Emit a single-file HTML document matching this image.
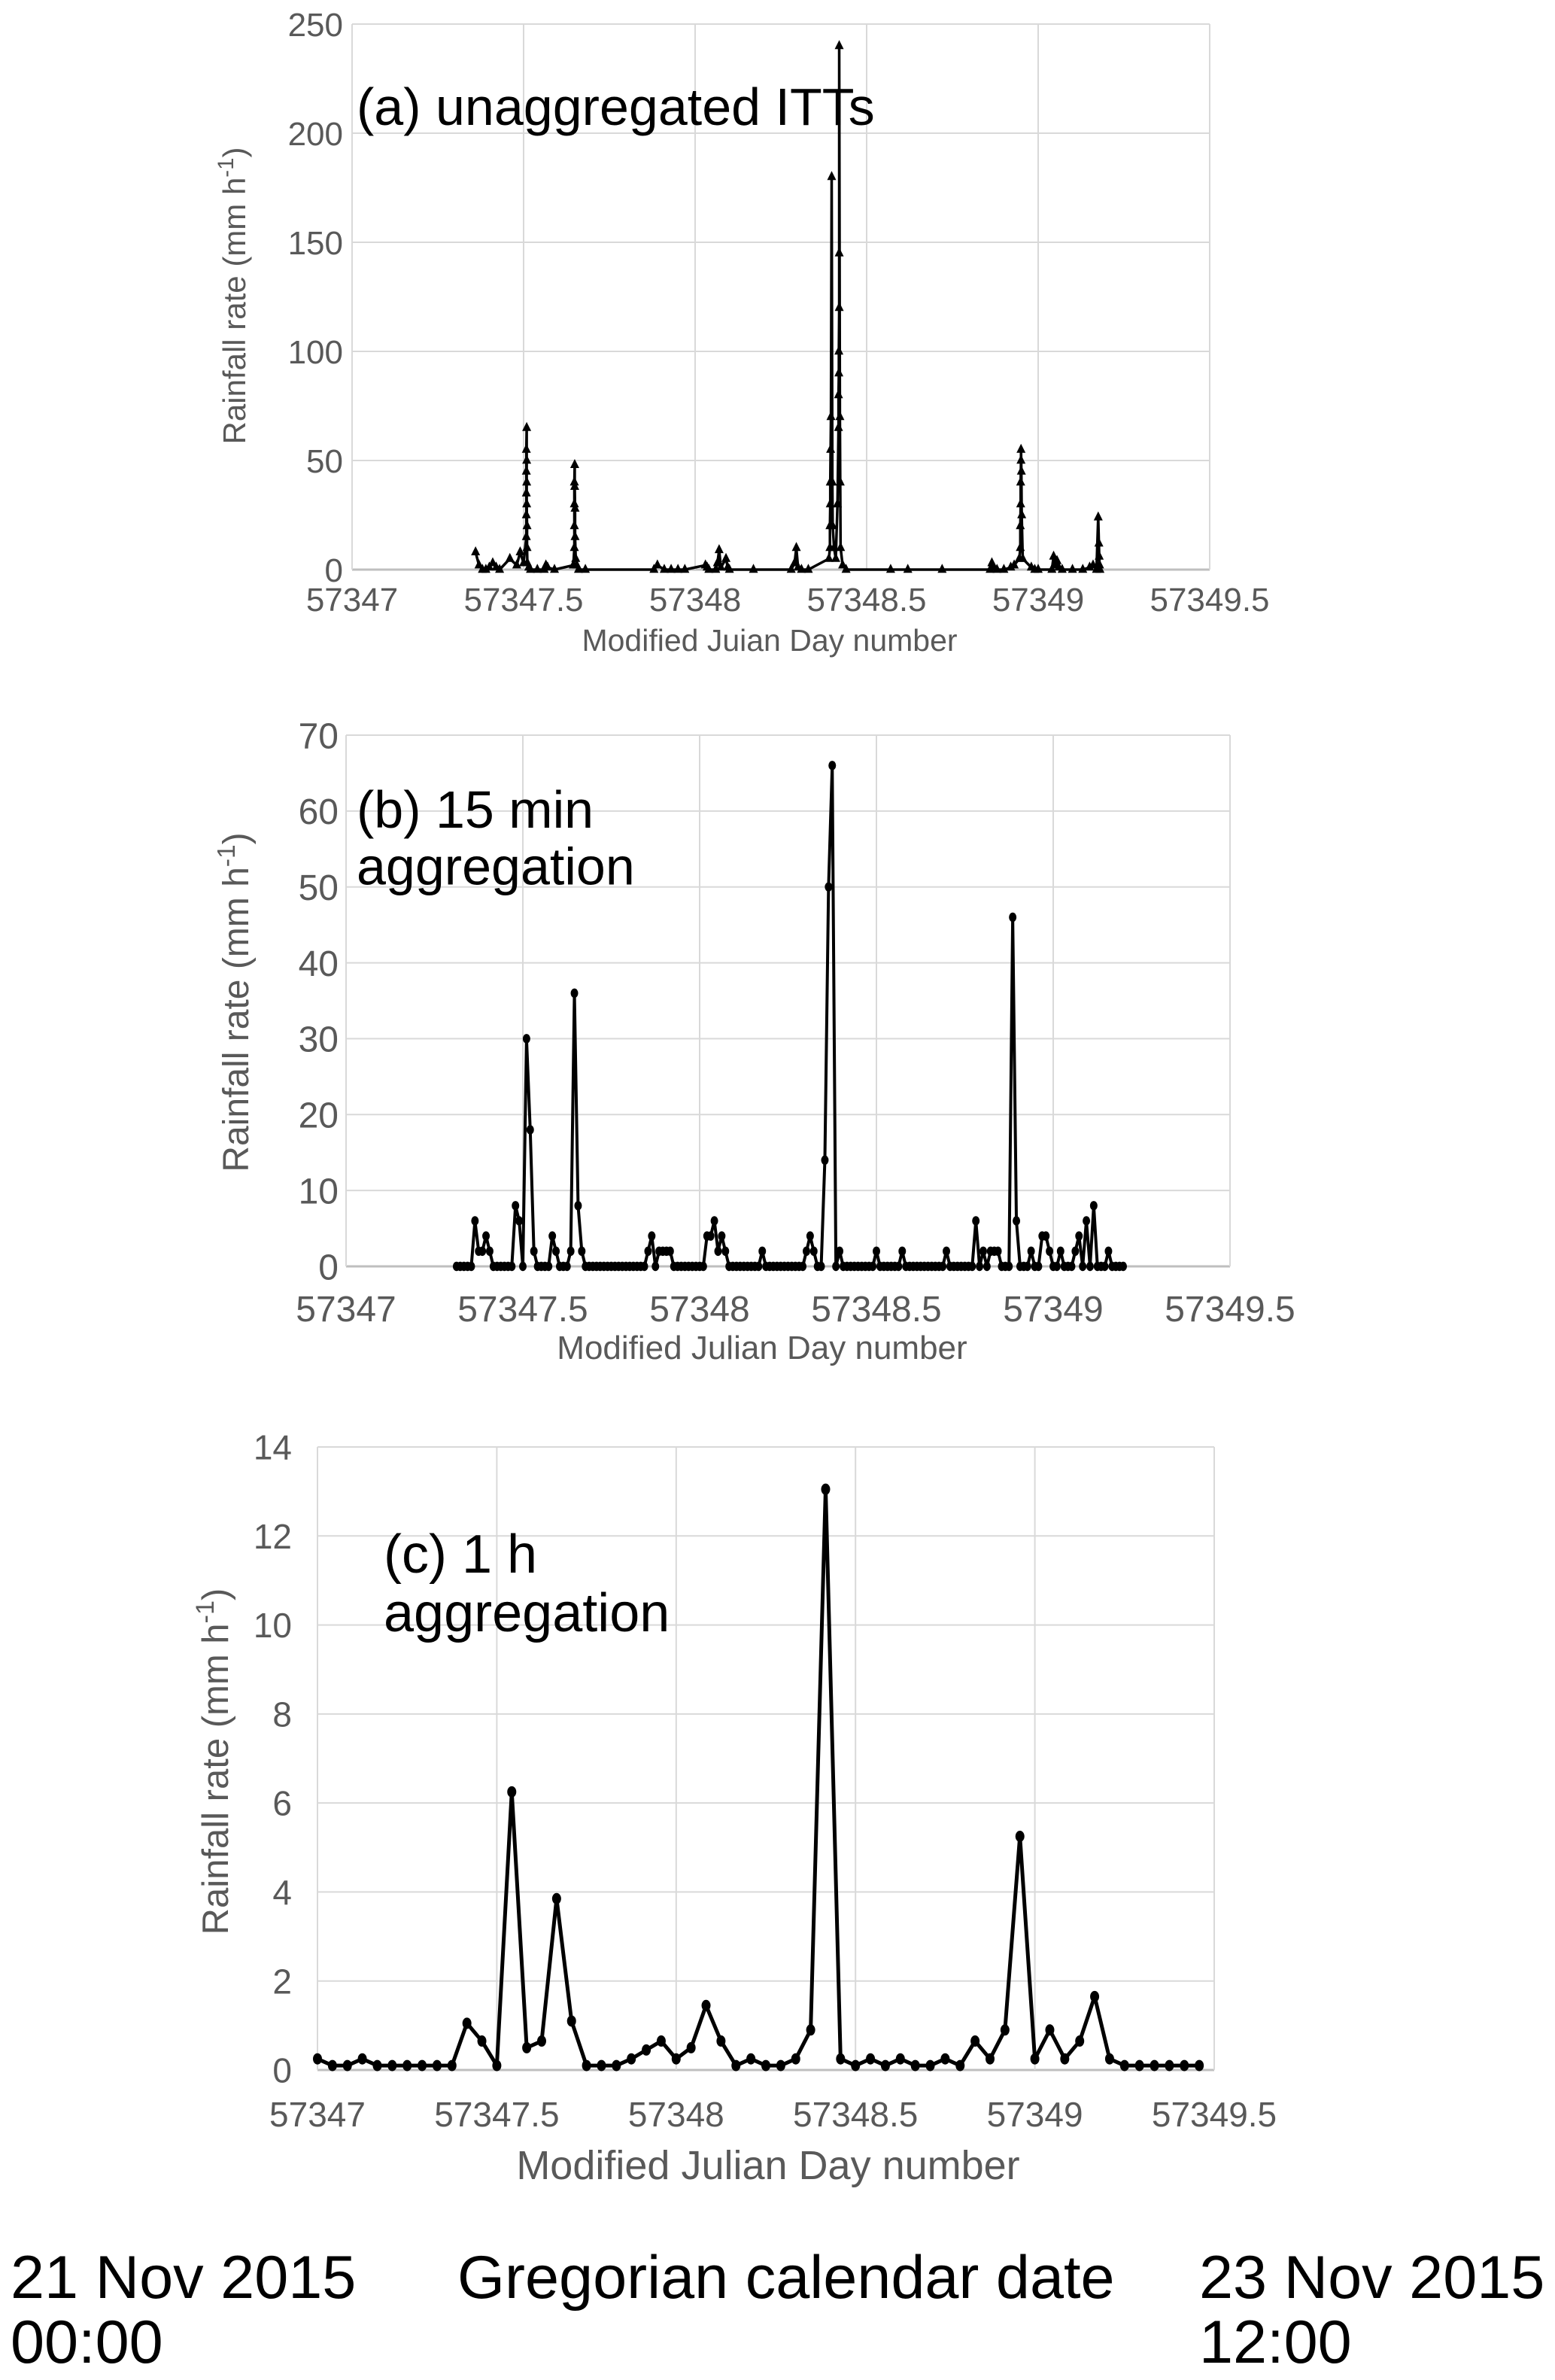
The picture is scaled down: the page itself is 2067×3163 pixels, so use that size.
<!DOCTYPE html>
<html><head><meta charset="utf-8"><style>
html,body{margin:0;padding:0;background:#fff;}
svg{display:block;font-family:"Liberation Sans",sans-serif;}
</style></head><body>
<svg id="fig" width="2067" height="3163" viewBox="0 0 2067 3163" xmlns="http://www.w3.org/2000/svg">
<g id="pa"></g>
<g id="pb"></g>
<g id="pc"></g>
<g font-size="81" fill="#000">
<text x="14" y="3054">21 Nov 2015</text>
<text x="14" y="3140">00:00</text>
<text x="608" y="3054">Gregorian calendar date</text>
<text x="1594" y="3054">23 Nov 2015</text>
<text x="1594" y="3140">12:00</text>
</g>
</svg>
<script>
// Shared x ticks
const xTicks = [57347, 57347.5, 57348, 57348.5, 57349, 57349.5];
const xTickLabels = ["57347", "57347.5", "57348", "57348.5", "57349", "57349.5"];
// Panel a
const aYTicks = [0, 50, 100, 150, 200, 250];
const aX = [57347.36,57347.37,57347.38,57347.39,57347.40,57347.41,57347.42,57347.43,57347.46,57347.48,57347.49,57347.50,
57347.508,57347.508,57347.508,57347.508,57347.508,57347.509,57347.509,57347.509,57347.509,57347.51,57347.51,57347.511,
57347.515,57347.52,57347.54,57347.56,57347.565,57347.57,57347.59,
57347.645,57347.648,57347.648,57347.648,57347.648,57347.649,57347.649,57347.65,57347.65,57347.652,57347.655,57347.66,57347.68,
57347.88,57347.89,57347.91,57347.93,57347.95,57347.97,
57348.03,57348.035,57348.04,57348.06,57348.065,57348.07,57348.075,57348.09,57348.095,57348.10,57348.17,
57348.28,57348.29,57348.295,57348.30,57348.31,57348.33,
57348.39,57348.393,57348.393,57348.394,57348.394,57348.395,57348.396,57348.398,57348.40,57348.401,57348.405,57348.41,57348.415,
57348.418,57348.418,57348.419,57348.419,57348.42,57348.42,57348.42,57348.422,57348.423,57348.424,57348.43,57348.44,
57348.57,57348.62,57348.72,
57348.86,57348.865,57348.87,57348.88,57348.90,57348.92,57348.93,57348.945,57348.948,57348.948,57348.949,57348.949,57348.95,57348.95,57348.951,57348.952,57348.955,57348.98,57348.99,57349.00,
57349.04,57349.045,57349.05,57349.055,57349.06,57349.07,57349.10,57349.13,57349.15,57349.16,57349.17,57349.175,57349.177,57349.178,57349.179,57349.18];
const aY = [8,2,0,0,1,3,1,0,5,2,8,3,
15,25,35,45,55,65,50,40,30,20,10,3,
1,0,0,0,2,1,0,
2,10,20,30,40,48,38,28,15,5,2,0,0,
0,2,0,0,0,0,
2,1,0,0,3,9,1,5,1,0,0,
0,3,10,1,0,0,
5,10,20,30,40,55,70,180,40,20,10,5,30,
65,80,90,100,120,145,240,70,40,10,2,0,
0,0,0,
0,3,1,0,0,1,2,5,10,20,30,40,50,55,45,25,5,1,0,0,
0,6,2,4,1,0,0,0,1,2,0,24,12,6,2,0];
// Panel b (15 min)
const bStart = 57347.3125;
const bStep = 1/96;
const bYTicks = [0,10,20,30,40,50,60,70];
const bY = [0,0,0,0,0,6,2,2,4,2,
0,0,0,0,0,0,8,6,0,30,
18,2,0,0,0,0,4,2,0,0,
0,2,36,8,2,0,0,0,0,0,
0,0,0,0,0,0,0,0,0,0,
0,0,2,4,0,2,2,2,2,0,
0,0,0,0,0,0,0,0,4,4,
6,2,4,2,0,0,0,0,0,0,
0,0,0,2,0,0,0,0,0,0,
0,0,0,0,0,2,4,2,0,0,
14,50,66,0,2,0,0,0,0,0,
0,0,0,0,2,0,0,0,0,0,
0,2,0,0,0,0,0,0,0,0,
0,0,0,2,0,0,0,0,0,0,
0,6,0,2,0,2,2,2,0,0,
0,46,6,0,0,0,2,0,0,4,
4,2,0,0,2,0,0,0,2,4,
0,6,0,8,0,0,0,2,0,0,
0,0];
// Panel c (1 h)
const cStart = 57347;
const cStep = 1/24;
const cYTicks = [0,2,4,6,8,10,12,14];
const cY = [0.25,0.1,0.1,0.25,0.1,0.1,0.1,0.1,0.1,0.1,
1.05,0.65,0.1,6.25,0.5,0.65,3.85,1.1,0.1,0.1,
0.1,0.25,0.45,0.65,0.25,0.5,1.45,0.65,0.1,0.25,
0.1,0.1,0.25,0.9,13.05,0.25,0.1,0.25,0.1,0.25,
0.1,0.1,0.25,0.1,0.65,0.25,0.9,5.25,0.25,0.9,
0.25,0.65,1.65,0.25,0.1,0.1,0.1,0.1,0.1,0.1];

const NS = "http://www.w3.org/2000/svg";
function mk(parent, tag, attrs, text){
  const e = document.createElementNS(NS, tag);
  for (const k in attrs) e.setAttribute(k, attrs[k]);
  if (text !== undefined) e.textContent = text;
  parent.appendChild(e);
  return e;
}
function drawPanel(g, cfg){
  const sx = v => cfg.x0 + (v - 57347) / 2.5 * (cfg.x1 - cfg.x0);
  const ymax = cfg.yTicks[cfg.yTicks.length-1];
  const sy = v => cfg.y0 - v / ymax * (cfg.y0 - cfg.y1);
  cfg.yTicks.forEach((t,i) => {
    const l = mk(g,'line',{x1:cfg.x0,x2:cfg.x1,y1:sy(t),y2:sy(t),stroke:i===0?'#bfbfbf':'#d9d9d9','stroke-width':i===0?3:2});
    
    
    const tl = mk(g,'text',{x:cfg.x0-cfg.ylabOff,y:sy(t)+cfg.tickFs*0.36,'text-anchor':'end','font-size':cfg.tickFs,fill:'#595959'}, String(t));
    
    
  });
  xTicks.forEach((t,i) => {
    const l = mk(g,'line',{x1:sx(t),x2:sx(t),y1:cfg.y0,y2:cfg.y1,stroke:'#d9d9d9','stroke-width':2});
    
    
    const tl = mk(g,'text',{x:sx(t),y:cfg.xlabY,'text-anchor':'middle','font-size':cfg.tickFs,fill:'#595959'}, xTickLabels[i]);
    
    
  });
  const xt = mk(g,'text',{x:cfg.xtX,y:cfg.xtY,'text-anchor':'middle','font-size':cfg.xtFs,fill:'#595959'}, cfg.xTitle);
  
  
  const yt = mk(g,'text',{transform:`translate(${cfg.ytX},${cfg.ytY}) rotate(-90)`,'text-anchor':'middle','font-size':cfg.ytFs,fill:'#595959'});
  
  
  yt.appendChild(document.createTextNode('Rainfall rate (mm h'));
  mk(yt,'tspan',{'baseline-shift':'super','font-size':cfg.ytFs*0.7},'-1');
  yt.appendChild(document.createTextNode(')'));
  const pts = cfg.xs.map((x,i)=>[sx(x), sy(cfg.ys[i])]);
  const pl = mk(g,'polyline',{points:pts.map(p=>p.join(',')).join(' '),fill:'none',stroke:'#000','stroke-width':cfg.lw,'stroke-linejoin':'round'});
  
  
  pts.forEach(p => {
    let m;
    if (cfg.marker === 'tri') {
      const s = 6;
      m = mk(g,'polygon',{points:`${p[0]},${p[1]-s*1.3} ${p[0]-s},${p[1]+s*0.7} ${p[0]+s},${p[1]+s*0.7}`,fill:'#000'});
    } else {
      m = mk(g,'ellipse',{cx:p[0],cy:p[1],rx:cfg.mr,ry:cfg.mr*1.25,fill:'#000'});
    }
    
    
  });
  cfg.note.forEach((line,i) => {
    const t = mk(g,'text',{x:cfg.noteX,y:cfg.noteY+i*cfg.noteFs*1.08,'font-size':cfg.noteFs,fill:'#000'}, line);
    
    
  });
}
const bX = bY.map((_,i)=>bStart + i*bStep);
const cX = cY.map((_,i)=>cStart + i*cStep);
drawPanel(document.getElementById('pa'), {x0:468,x1:1608,y0:757,y1:32,yTicks:aYTicks,xs:aX,ys:aY,marker:'tri',lw:3.5,
  tickFs:44,xtFs:41,ytFs:42,ylabOff:12,xlabY:812,xtX:1023,xtY:865,xTitle:'Modified Juian Day number',ytX:326,ytY:393,
  note:['(a) unaggregated ITTs'],noteX:474,noteY:166,noteFs:70});
drawPanel(document.getElementById('pb'), {x0:460,x1:1635,y0:1683,y1:977,yTicks:bYTicks,xs:bX,ys:bY,marker:'dot',mr:5,lw:4,
  tickFs:48,xtFs:44,ytFs:48,ylabOff:10,xlabY:1756,xtX:1013,xtY:1806,xTitle:'Modified Julian Day number',ytX:330,ytY:1332,
  note:['(b) 15 min','aggregation'],noteX:474,noteY:1100,noteFs:70});
drawPanel(document.getElementById('pc'), {x0:422,x1:1614,y0:2751,y1:1923,yTicks:cYTicks,xs:cX,ys:cY,marker:'dot',mr:6,lw:5,
  tickFs:46,xtFs:54,ytFs:49,ylabOff:34,xlabY:2826,xtX:1021,xtY:2896,xTitle:'Modified Julian Day number',ytX:303,ytY:2341,
  note:['(c) 1 h','aggregation'],noteX:510,noteY:2090,noteFs:72});
</script>
</body></html>
